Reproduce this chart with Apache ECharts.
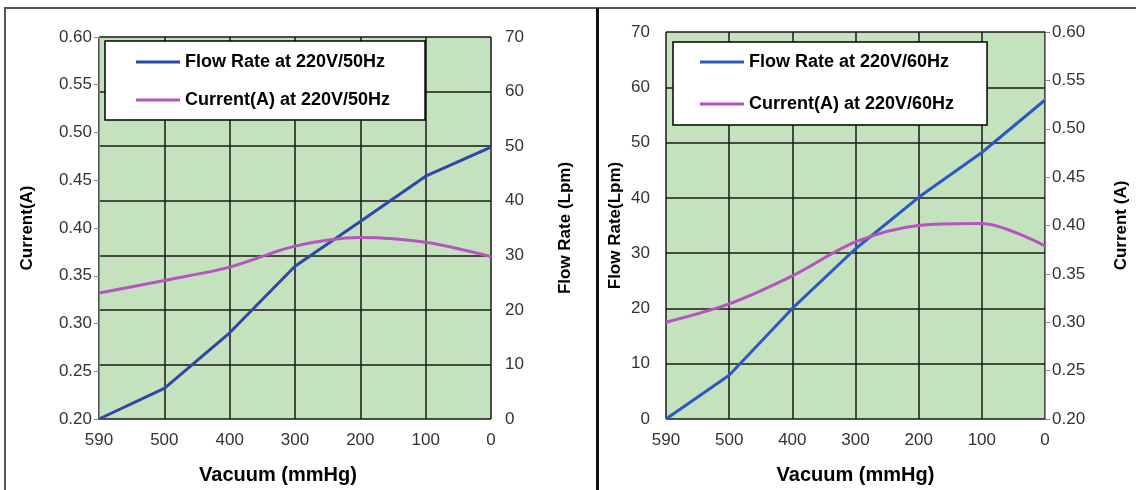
<!DOCTYPE html>
<html>
<head>
<meta charset="utf-8">
<script src="https://cdn.jsdelivr.net/npm/echarts@6/dist/echarts.min.js"></script>
<style>
  body { margin: 0; background: #fff; }
  #wrap { position: relative; width: 1136px; height: 490px; overflow: hidden; }
  #chart { position: absolute; left: 0; top: 0; width: 1136px; height: 490px; }
  .frame { position: absolute; left: 4px; top: 7px; width: 1200px; height: 600px;
           border-left: 2px solid #555; border-top: 2px solid #555; pointer-events: none; }
  .divider { position: absolute; left: 596px; top: 8px; width: 0; height: 490px;
             border-left: 3px solid #111; pointer-events: none; }
</style>
</head>
<body>
<div id="wrap">
  <div id="chart"></div>
  <div class="frame"></div>
  <div class="divider"></div>
</div>
<script>
/* Vacuum pump performance — 50Hz / 60Hz */

// --- Data ---
const vacuum = ['590', '500', '400', '300', '200', '100', '0'];

const flow50 = [0, 5.6, 15.8, 28, 36.2, 44.5, 49.8];
const current50 = [0.332, 0.345, 0.359, 0.381, 0.390, 0.385, 0.370];

const flow60 = [0, 7.9, 20, 30.8, 40.1, 48.2, 57.7];
const current60 = [0.300, 0.319, 0.348, 0.383, 0.400, 0.402, 0.379];

// --- Styles ---
const FONT = 'Arial, "Liberation Sans", sans-serif';
const GREEN = '#c4e2bd';
const GRIDLINE = { show: true, lineStyle: { color: '#1a1a1a', width: 1.5 } };
const BLUE50 = '#2c49a8';
const BLUE60 = '#3058c2';
const PURPLE = '#b654c2';

const tickLabel = { color: '#333', fontSize: 17, fontFamily: FONT };
const axisName = { color: '#000', fontSize: 17, fontWeight: 'bold', fontFamily: FONT };

function xAxisFor(gridIndex, namePad) {
    return {
        type: 'category', gridIndex, data: vacuum, boundaryGap: false,
        name: 'Vacuum (mmHg)', nameLocation: 'middle', nameGap: 46,
        nameTextStyle: { ...axisName, fontSize: 20, padding: namePad },
        axisLine: { show: false }, axisTick: { show: false },
        axisLabel: { ...tickLabel, margin: 13 },
        splitLine: GRIDLINE
    };
}

function currentAxis(gridIndex, position, name, gap) {
    return {
        type: 'value', gridIndex, position, min: 0.2, max: 0.6, interval: 0.05,
        name, nameLocation: 'middle', nameGap: gap, nameTextStyle: axisName,
        axisLine: { show: true, lineStyle: { color: '#888', width: 1 } },
        axisTick: { show: true, length: 5, lineStyle: { color: '#888' } },
        axisLabel: { ...tickLabel, margin: 7, formatter: v => v.toFixed(2) },
        splitLine: { show: false }
    };
}

function flowAxis(gridIndex, position, name, gap, margin) {
    return {
        type: 'value', gridIndex, position, min: 0, max: 70, interval: 10,
        name, nameLocation: 'middle', nameGap: gap, nameTextStyle: axisName,
        axisLine: { show: false }, axisTick: { show: false },
        axisLabel: { ...tickLabel, margin },
        splitLine: GRIDLINE
    };
}

function legendFor(names, left, top, gap, padding) {
    return {
        data: names, orient: 'vertical', left, top, itemGap: gap,
        icon: 'rect', itemWidth: 44, itemHeight: 3,
        backgroundColor: '#fff', borderColor: '#000', borderWidth: 1.5,
        padding, selectedMode: false,
        textStyle: { color: '#000', fontSize: 18, fontWeight: 'bold', fontFamily: FONT }
    };
}

function line(name, data, x, y, color, smooth) {
    return {
        type: 'line', name, data, xAxisIndex: x, yAxisIndex: y,
        smooth, symbol: 'none', lineStyle: { color, width: 3 }, itemStyle: { color },
        z: 5
    };
}

const chart = echarts.init(document.getElementById('chart'), null, { renderer: 'canvas' });
chart.setOption({
    backgroundColor: '#fff',
    animation: false,
    grid: [
        { left: 99, top: 37, width: 392, height: 385, show: true, backgroundColor: GREEN, borderWidth: 0 },
        { left: 666, top: 32, width: 379, height: 389, show: true, backgroundColor: GREEN, borderWidth: 0 }
    ],
    xAxis: [xAxisFor(0, [0, 34, 0, 0]), xAxisFor(1, 0)],
    yAxis: [
        currentAxis(0, 'left', 'Current(A)', 63),
        flowAxis(0, 'right', 'Flow Rate (Lpm)', 66, 14),
        flowAxis(1, 'left', 'Flow Rate(Lpm)', 42, 16),
        currentAxis(1, 'right', 'Current (A)', 68)
    ],
    legend: [
        legendFor(['Flow Rate at 220V/50Hz', 'Current(A) at 220V/50Hz'], 105, 41, 20, [12, 35, 11, 31]),
        legendFor(['Flow Rate at 220V/60Hz', 'Current(A) at 220V/60Hz'], 673, 42, 24, [11, 33, 12, 27])
    ],
    series: [
        line('Flow Rate at 220V/50Hz', flow50, 0, 1, BLUE50, false),
        line('Current(A) at 220V/50Hz', current50, 0, 0, PURPLE, 0.3),
        line('Flow Rate at 220V/60Hz', flow60, 1, 2, BLUE60, false),
        line('Current(A) at 220V/60Hz', current60, 1, 3, PURPLE, 0.3)
    ]
});
</script>
</body>
</html>
